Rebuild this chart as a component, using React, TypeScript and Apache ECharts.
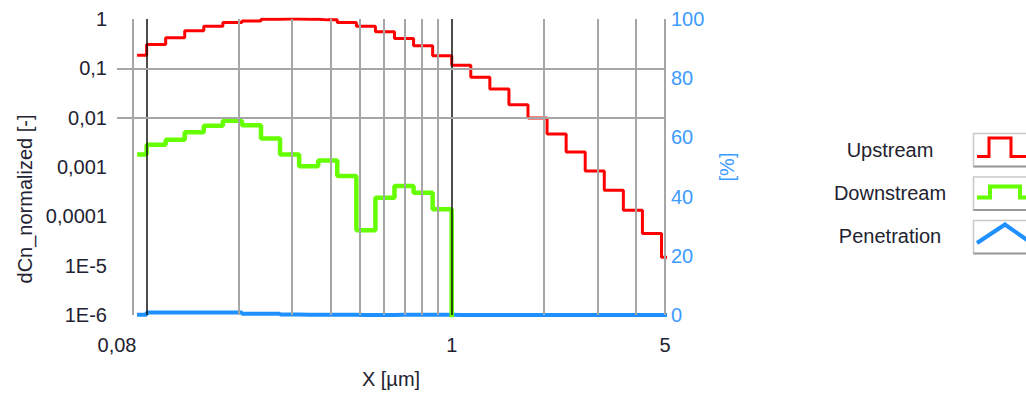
import React, { useEffect, useRef } from "react";
import * as echarts from "echarts";

// Bin centres (X, µm) read from the step positions
const sizes = [
  0.0931, 0.1075, 0.1241, 0.1433, 0.1655, 0.1911, 0.2207, 0.2548, 0.2943, 0.3398,
  0.3924, 0.4531, 0.5233, 0.6043, 0.6978, 0.8058, 0.9306, 1.0746, 1.2409, 1.433,
  1.6548, 1.911, 2.2067, 2.5483, 2.9427, 3.3982, 3.9242, 4.5316, 5.233,
];

// dCn_normalized [-]
const upstream = [
  0.185, 0.305, 0.416, 0.575, 0.713, 0.846, 0.916, 0.99, 1.0, 0.99,
  0.96, 0.846, 0.713, 0.55, 0.403, 0.287, 0.18, 0.115, 0.0659, 0.0383,
  0.0182, 0.00982, 0.00467, 0.00202, 0.000826, 0.000336, 0.000133, 0.000045, 0.0000148,
];

const downstream = [
  0.00179, 0.00284, 0.00358, 0.00505, 0.00687, 0.00866, 0.007, 0.00376, 0.00179, 0.00104,
  0.00135, 0.000656, 0.0000525, 0.000239, 0.000412, 0.000302, 0.000139, 0, 0, 0,
  0, 0, 0, 0, 0, 0, 0, 0, 0,
];

// Penetration [%]
const penetration = [
  0.1, 0.85, 0.85, 0.85, 0.85, 0.85, 0.4, 0.4, 0.15, 0.1,
  0.1, 0.05, 0.01, 0.04, 0.1, 0.1, 0.08, 0, 0, 0,
  0, 0, 0, 0, 0, 0, 0, 0, 0,
];

// Axis ranges / ticks
const xMin = 0.08;
const xMax = 5;
const xTickValues = [0.08, 1, 5];
const xTickLabels = ["0,08", "1", "5"];
const xMinorGrid = [0.09, 0.2, 0.3, 0.4, 0.5, 0.6, 0.7, 0.8, 0.9, 2, 3, 4, 5];
const xMajorGrid = [0.1, 1];
const yGrid = [0.1, 0.01, 0.001, 0.0001, 0.00001, 0.000001];
const yMin = 0.000001;
const yMax = 1;
const y2Min = 0;
const y2Max = 100;
const y2Interval = 20;

const seriesNames = ["Upstream", "Downstream", "Penetration"];
const colors = ["#ff0000", "#66ff00", "#1e90ff"];

const FONT = "'Liberation Sans', Arial, sans-serif";
const TEXT = "#222230";
const BLUE_TEXT = "#3d9bff";
const GRID_GRAY = "#a6a6a6";
const LOG_FLOOR = 1e-9; // zero values drop below the log axis floor

function fmtY(v: number): string {
  const e = Math.round(Math.log10(v));
  if (e >= 0) return "1";
  if (e >= -4) return (Math.pow(10, e)).toFixed(-e).replace(".", ",");
  return "1E" + e;
}

function fmtX(v: number): string {
  for (let i = 0; i < xTickValues.length; i++) {
    if (Math.abs(v - xTickValues[i]) < 1e-6 * Math.max(1, xTickValues[i])) return xTickLabels[i];
  }
  return "";
}

export default function App() {
  const ref = useRef<HTMLDivElement>(null);

  useEffect(() => {
    if (!ref.current) return;
    const chart = echarts.init(ref.current, undefined, { renderer: "svg" });

    const gridLines: any[] = [];
    xMinorGrid.forEach((x) =>
      gridLines.push({ xAxis: x, lineStyle: { color: GRID_GRAY, width: 2, type: "solid" } })
    );
    xMajorGrid.forEach((x) =>
      gridLines.push({ xAxis: x, lineStyle: { color: "#111111", width: 1.5, type: "solid" } })
    );
    yGrid.forEach((y) =>
      gridLines.push({ yAxis: y, lineStyle: { color: GRID_GRAY, width: 2, type: "solid" } })
    );

    const lx = 890;
    const boxX = 973.5;
    const legendY = [150, 193, 236];
    const boxTop = [133.5, 177, 220.5];
    const boxH = 33;

    const graphic: any[] = [
      {
        type: "text",
        x: 25,
        y: 199,
        rotation: Math.PI / 2,
        style: {
          text: "dCn_normalized [-]",
          fill: TEXT,
          font: `20px ${FONT}`,
          textAlign: "center",
          textVerticalAlign: "middle",
        },
      },
    ];
    seriesNames.forEach((n, i) => {
      graphic.push({
        type: "text",
        x: lx,
        y: legendY[i],
        style: {
          text: n,
          fill: TEXT,
          font: `20px ${FONT}`,
          textAlign: "center",
          textVerticalAlign: "middle",
        },
      });
      graphic.push({
        type: "rect",
        shape: { x: boxX, y: boxTop[i], width: 70, height: boxH },
        style: { fill: "#ffffff", stroke: "#c8c8c8", lineWidth: 1.5 },
      });
      graphic.push({
        type: "line",
        shape: { x1: boxX, y1: boxTop[i] + boxH, x2: boxX + 70, y2: boxTop[i] + boxH },
        style: { stroke: "#9a9a9a", lineWidth: 2 },
      });
    });
    // legend icons
    graphic.push({
      type: "polyline",
      shape: {
        points: [
          [977, 156.5], [989, 156.5], [989, 138], [1011, 138], [1011, 156.5], [1030, 156.5],
        ],
      },
      style: { stroke: colors[0], lineWidth: 3, fill: "none" },
    });
    graphic.push({
      type: "polyline",
      shape: {
        points: [
          [977, 197.5], [990, 197.5], [990, 186.5], [1020, 186.5], [1020, 197.5], [1030, 197.5],
        ],
      },
      style: { stroke: colors[1], lineWidth: 4, fill: "none" },
    });
    graphic.push({
      type: "polyline",
      shape: { points: [[977, 243], [1005, 224.5], [1030, 242]] },
      style: { stroke: colors[2], lineWidth: 4, fill: "none" },
    });

    const option: any = {
      animation: false,
      backgroundColor: "#ffffff",
      textStyle: { fontFamily: FONT },
      grid: { left: 117, right: 361, top: 19, bottom: 76, containLabel: false },
      xAxis: {
        type: "log",
        logBase: 10,
        min: xMin,
        max: xMax,
        name: "X [µm]",
        nameLocation: "middle",
        nameGap: 54,
        nameTextStyle: { color: TEXT, fontSize: 20, fontFamily: FONT },
        axisLine: { show: false },
        axisTick: { show: false },
        splitLine: { show: false },
        axisLabel: {
          show: true,
          color: TEXT,
          fontSize: 20,
          fontFamily: FONT,
          margin: 20,
          showMinLabel: true,
          showMaxLabel: true,
          hideOverlap: false,
          formatter: (v: number) => fmtX(v),
        },
      },
      yAxis: [
        {
          type: "log",
          logBase: 10,
          min: yMin,
          max: yMax,
          position: "left",
          axisLine: { show: false },
          axisTick: { show: false },
          splitLine: { show: false },
          axisLabel: {
            color: TEXT,
            fontSize: 20,
            fontFamily: FONT,
            margin: 10,
            formatter: (v: number) => fmtY(v),
          },
        },
        {
          type: "value",
          min: y2Min,
          max: y2Max,
          interval: y2Interval,
          position: "right",
          name: "[%]",
          nameLocation: "middle",
          nameRotate: 90,
          nameGap: 52,
          nameTextStyle: { color: BLUE_TEXT, fontSize: 20, fontFamily: FONT },
          axisLine: { show: false },
          axisTick: { show: false },
          splitLine: { show: false },
          axisLabel: { color: BLUE_TEXT, fontSize: 20, fontFamily: FONT, margin: 6 },
        },
      ],
      graphic,
      series: [
        {
          type: "line",
          name: "grid",
          data: [],
          z: 1,
          silent: true,
          markLine: {
            silent: true,
            symbol: ["none", "none"],
            label: { show: false },
            animation: false,
            data: gridLines,
          },
        },
        {
          type: "line",
          name: seriesNames[2],
          yAxisIndex: 1,
          step: "middle",
          showSymbol: false,
          symbol: "none",
          z: 2,
          lineStyle: { color: colors[2], width: 4 },
          itemStyle: { color: colors[2] },
          data: sizes.map((x, i) => [x, penetration[i]]),
        },
        {
          type: "line",
          name: seriesNames[1],
          yAxisIndex: 0,
          step: "middle",
          showSymbol: false,
          symbol: "none",
          z: 3,
          lineStyle: { color: colors[1], width: 4.5 },
          itemStyle: { color: colors[1] },
          data: sizes.map((x, i) => [x, downstream[i] > 0 ? downstream[i] : LOG_FLOOR]),
        },
        {
          type: "line",
          name: seriesNames[0],
          yAxisIndex: 0,
          step: "middle",
          showSymbol: false,
          symbol: "none",
          z: 4,
          lineStyle: { color: colors[0], width: 3 },
          itemStyle: { color: colors[0] },
          data: sizes.map((x, i) => [x, upstream[i]]),
        },
      ],
    };

    chart.setOption(option);
    return () => chart.dispose();
  }, []);

  return (
    <div
      ref={ref}
      style={{ position: "fixed", left: 0, top: 0, width: 1026, height: 394, background: "#fff" }}
    />
  );
}
